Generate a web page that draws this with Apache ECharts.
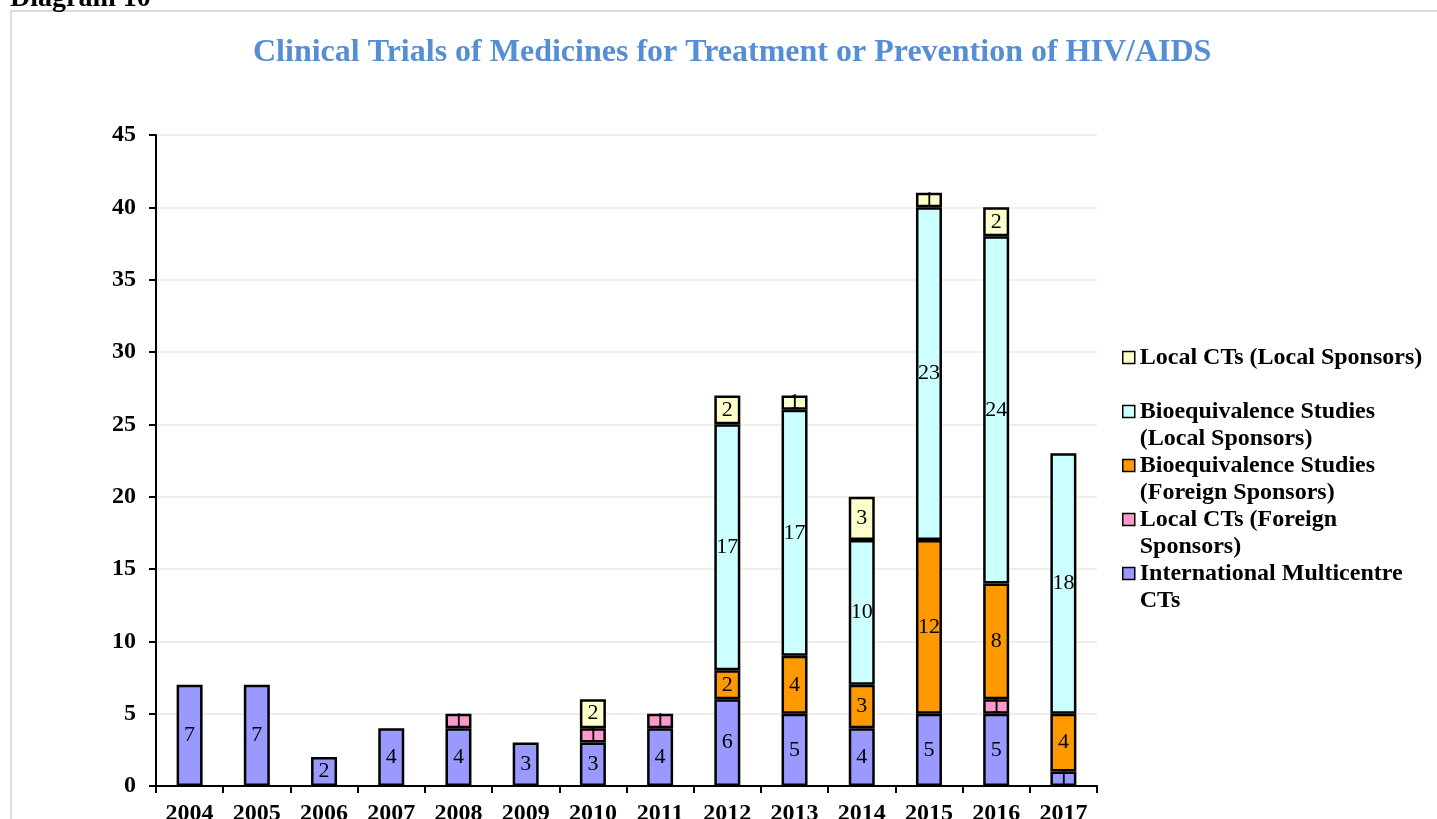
<!DOCTYPE html>
<html>
<head>
<meta charset="utf-8">
<title>Clinical Trials of Medicines for Treatment or Prevention of HIV/AIDS</title>
<script src="https://cdn.jsdelivr.net/npm/echarts@6/dist/echarts.min.js"></script>
<style>
  html, body { margin: 0; padding: 0; background: #fff; }
  #chart { width: 1437px; height: 819px; }
</style>
</head>
<body>
<div id="chart"></div>
<script>
// data
var years = ['2004', '2005', '2006', '2007', '2008', '2009', '2010', '2011', '2012', '2013', '2014', '2015', '2016', '2017'];
var intlMulticentre = [7, 7, 2, 4, 4, 3, 3, 4, 6, 5, 4, 5, 5, 1];
var localForeign = [0, 0, 0, 0, 1, 0, 1, 1, 0, 0, 0, 0, 1, 0];
var beForeign = [0, 0, 0, 0, 0, 0, 0, 0, 2, 4, 3, 12, 8, 4];
var beLocal = [0, 0, 0, 0, 0, 0, 0, 0, 17, 17, 10, 23, 24, 18];
var localLocal = [0, 0, 0, 0, 0, 0, 2, 0, 2, 1, 3, 1, 2, 0];
var yTicks = [0, 5, 10, 15, 20, 25, 30, 35, 40, 45];

var SERIF = '"Liberation Serif", "Times New Roman", serif';

var chart = echarts.init(document.getElementById('chart'));

function makeSeries(name, values, color) {
  return {
    name: name,
    type: 'bar',
    stack: 'total',
    barWidth: 26,
    data: values.map(function (v) { return v === 0 ? '-' : v; }),
    itemStyle: { color: color, borderColor: '#000', borderWidth: 2.5 },
    label: {
      show: true,
      position: 'inside',
      color: '#000',
      fontFamily: SERIF,
      fontSize: 22
    },
    emphasis: { disabled: true }
  };
}

// legend text: a blank line above keeps the icon level with the first line
var legendText = {
  'Local CTs (Local Sponsors)': '\nLocal CTs (Local Sponsors)\n',
  'Bioequivalence Studies (Local Sponsors)': '\nBioequivalence Studies\n(Local Sponsors)',
  'Bioequivalence Studies (Foreign Sponsors)': '\nBioequivalence Studies\n(Foreign Sponsors)',
  'Local CTs (Foreign Sponsors)': '\nLocal CTs (Foreign\nSponsors)',
  'International Multicentre CTs': '\nInternational Multicentre\nCTs'
};

var option = {
  animation: false,
  backgroundColor: '#fff',
  title: {
    text: 'Clinical Trials of Medicines for Treatment or Prevention of HIV/AIDS',
    left: 253,
    top: 37,
    padding: 0,
    textStyle: { color: '#558ED5', fontFamily: SERIF, fontWeight: 'bold', fontSize: 32 }
  },
  graphic: [
    {
      type: 'rect',
      shape: { x: 11, y: 11, width: 1440, height: 830 },
      style: { fill: 'none', stroke: '#DCDCDC', lineWidth: 2 },
      silent: true
    },
    {
      type: 'text',
      left: 10,
      top: -15,
      style: { text: 'Diagram 10', fill: '#000', font: 'bold 28px ' + SERIF }
    }
  ],
  legend: {
    orient: 'vertical',
    left: 1122,
    top: 317,
    padding: 0,
    itemGap: -27,
    itemWidth: 12,
    itemHeight: 12,
    icon: 'rect',
    itemStyle: { borderColor: '#000', borderWidth: 1.5 },
    textStyle: { color: '#000', fontFamily: SERIF, fontWeight: 'bold', fontSize: 24, lineHeight: 27 },
    formatter: function (name) { return legendText[name]; },
    data: [
      'Local CTs (Local Sponsors)',
      'Bioequivalence Studies (Local Sponsors)',
      'Bioequivalence Studies (Foreign Sponsors)',
      'Local CTs (Foreign Sponsors)',
      'International Multicentre CTs'
    ]
  },
  grid: { left: 156, right: 340, top: 135, bottom: 33, outerBoundsMode: 'none' },
  xAxis: {
    type: 'category',
    data: years,
    axisLine: { lineStyle: { color: '#000', width: 2 } },
    axisTick: { show: true, length: 7, lineStyle: { color: '#000', width: 2 } },
    axisLabel: { color: '#000', fontFamily: SERIF, fontWeight: 'bold', fontSize: 24, margin: 16 }
  },
  yAxis: {
    type: 'value',
    min: yTicks[0],
    max: yTicks[yTicks.length - 1],
    interval: 5,
    axisLine: { show: true, lineStyle: { color: '#000', width: 2 } },
    axisTick: { show: true, length: 7, lineStyle: { color: '#000', width: 2 } },
    axisLabel: { color: '#000', fontFamily: SERIF, fontWeight: 'bold', fontSize: 24, margin: 20 },
    splitLine: { lineStyle: { color: '#ECE9DF', width: 1.5 } }
  },
  series: [
    makeSeries('International Multicentre CTs', intlMulticentre, '#9999FF'),
    makeSeries('Local CTs (Foreign Sponsors)', localForeign, '#FF99CC'),
    makeSeries('Bioequivalence Studies (Foreign Sponsors)', beForeign, '#FF9900'),
    makeSeries('Bioequivalence Studies (Local Sponsors)', beLocal, '#CCFFFF'),
    makeSeries('Local CTs (Local Sponsors)', localLocal, '#FFFFCC')
  ]
};

chart.setOption(option);
</script>
</body>
</html>
